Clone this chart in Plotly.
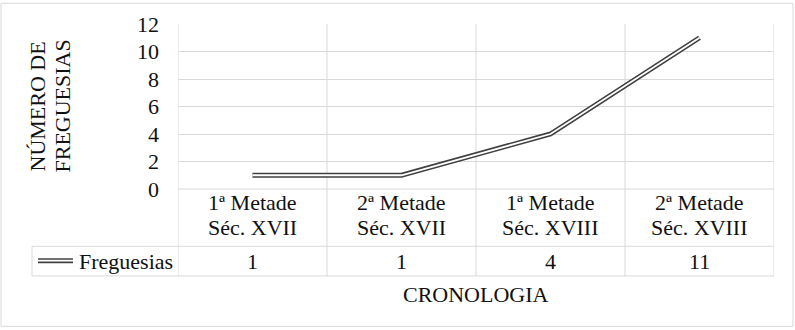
import plotly.graph_objects as go

categories = ["1ª Metade<br>Séc. XVII", "2ª Metade<br>Séc. XVII",
              "1ª Metade<br>Séc. XVIII", "2ª Metade<br>Séc. XVIII"]
values = [1, 1, 4, 11]
series_name = "Freguesias"
y_title = "NÚMERO DE<br>FREGUESIAS"
x_title = "CRONOLOGIA"

FONT = "Liberation Serif, Times New Roman, serif"
GRID = "#d9d9d9"
LINE = "#404040"
TXT = "#111111"
FS = 22

W, H = 795, 330
L, R, T, B = 178, 21, 22, 141
pw, ph = W - L - R, H - T - B


def px_x(p):
    return (p - L) / pw


def px_y(p):
    return (H - B - p) / ph


xs = [i + 0.5 for i in range(len(categories))]

fig = go.Figure()
fig.add_trace(go.Scatter(x=xs, y=values, mode="lines",
                         line=dict(color=LINE, width=5, shape="linear"),
                         showlegend=False, hoverinfo="skip"))
fig.add_trace(go.Scatter(x=xs, y=values, mode="lines",
                         line=dict(color="white", width=1.8, shape="linear"),
                         showlegend=False, name=series_name))

shapes = []
row1_bot = px_y(247)
row2_bot = px_y(277)
for i in range(len(categories) + 1):
    shapes.append(dict(type="line", xref="x", yref="paper", x0=i, x1=i,
                       y0=1, y1=row2_bot, line=dict(color=GRID, width=1), layer="below"))
shapes.append(dict(type="line", xref="paper", yref="paper", x0=0, x1=1,
                   y0=0, y1=0, line=dict(color=GRID, width=1), layer="below"))
for yy in (row1_bot, row2_bot):
    shapes.append(dict(type="line", xref="paper", yref="paper", x0=px_x(32), x1=1,
                       y0=yy, y1=yy, line=dict(color=GRID, width=1)))
shapes.append(dict(type="line", xref="paper", yref="paper", x0=px_x(32), x1=px_x(32),
                   y0=row1_bot, y1=row2_bot, line=dict(color=GRID, width=1)))
ky = px_y(261.5)
shapes.append(dict(type="line", xref="paper", yref="paper", x0=px_x(38), x1=px_x(73),
                   y0=ky, y1=ky, line=dict(color=LINE, width=5)))
shapes.append(dict(type="line", xref="paper", yref="paper", x0=px_x(38), x1=px_x(73),
                   y0=ky, y1=ky, line=dict(color="white", width=1.8)))
shapes.append(dict(type="rect", xref="paper", yref="paper", x0=px_x(1), x1=px_x(793),
                   y0=px_y(1), y1=px_y(328), line=dict(color=GRID, width=1)))

font = dict(family=FONT, size=FS, color=TXT)
annotations = []
cat_line_y = [203, 228]
for i, c in enumerate(categories):
    for j, part in enumerate(c.split("<br>")):
        annotations.append(dict(x=xs[i], y=px_y(cat_line_y[j]), xref="x", yref="paper",
                                text=part, showarrow=False, font=font,
                                xanchor="center", yanchor="middle"))
    annotations.append(dict(x=xs[i], y=px_y(262), xref="x", yref="paper", text=str(values[i]),
                            showarrow=False, font=font,
                            xanchor="center", yanchor="middle"))
annotations.append(dict(x=px_x(77), y=px_y(262), xref="paper", yref="paper", text=series_name,
                        showarrow=False, font=font, xanchor="left", yanchor="middle"))
annotations.append(dict(x=px_x(476), y=px_y(296), xref="paper", yref="paper", text=x_title,
                        showarrow=False, font=font, xanchor="center", yanchor="middle"))
ytitle_x = [37, 62]
for j, part in enumerate(y_title.split("<br>")):
    annotations.append(dict(x=px_x(ytitle_x[j]), y=0.5, xref="paper", yref="paper", text=part,
                            textangle=-90, showarrow=False, font=font,
                            xanchor="center", yanchor="middle"))

fig.update_layout(
    width=W, height=H,
    margin=dict(l=L, r=R, t=T, b=B),
    paper_bgcolor="white", plot_bgcolor="white",
    showlegend=False,
    shapes=shapes, annotations=annotations,
    xaxis=dict(range=[0, len(categories)], showticklabels=False, showgrid=False,
               zeroline=False, showline=False, fixedrange=True),
    yaxis=dict(range=[0, 12], dtick=2, showgrid=True, gridcolor=GRID, gridwidth=1,
               zeroline=False, showline=False, ticks="", ticklabelstandoff=18,
               tickfont=dict(family=FONT, size=FS, color=TXT), fixedrange=True),
)

fig.write_html("out.html", config={"displayModeBar": False},
               post_script="document.body.style.margin='0';document.body.style.overflow='hidden';")
